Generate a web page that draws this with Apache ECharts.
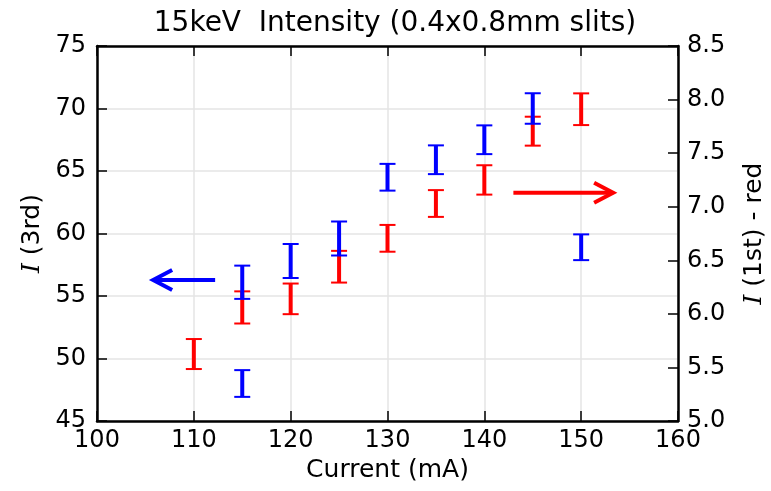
<!DOCTYPE html>
<html>
<head>
<meta charset="UTF-8">
<title>15keV Intensity</title>
<script src="https://cdn.jsdelivr.net/npm/echarts@6/dist/echarts.min.js"></script>
<style>
  html, body { margin: 0; padding: 0; background: #fff; }
  #main { width: 771px; height: 491px; }
</style>
</head>
<body>
<div id="main"></div>
<script>
// 3rd harmonic (blue, left axis): [current, intensity, error]
var blue3rd = [
  [115, 48.0, 1.07],
  [115, 56.1, 1.33],
  [120, 57.8, 1.36],
  [125, 59.6, 1.36],
  [130, 64.5, 1.07],
  [135, 65.9, 1.15],
  [140, 67.5, 1.15],
  [145, 70.0, 1.22],
  [150, 58.9, 1.03]
];
// 1st harmonic (red, right axis)
var red1st = [
  [110, 5.625, 0.14],
  [115, 6.06, 0.15],
  [120, 6.14, 0.143],
  [125, 6.44, 0.148],
  [130, 6.705, 0.125],
  [135, 7.03, 0.125],
  [140, 7.25, 0.137],
  [145, 7.705, 0.135],
  [150, 7.91, 0.148]
];
// arrows: [xFrom, yFrom, xTo, yTo]
var blueArrow = [[112.2, 56.28, 105.8, 56.28]];
var redArrow = [[143.0, 7.13, 153.3, 7.13]];

var xTicks = [100, 110, 120, 130, 140, 150, 160];
var leftTicks = [45, 50, 55, 60, 65, 70, 75];
var rightTicks = [5.0, 5.5, 6.0, 6.5, 7.0, 7.5, 8.0, 8.5];

var FONT = 'DejaVu Sans';

function errBar(color) {
  return function (params, api) {
    var x = api.value(0), y = api.value(1), e = api.value(2);
    var top = api.coord([x, y + e]);
    var bot = api.coord([x, y - e]);
    var hw = 8;
    var style = { stroke: color, lineWidth: 4 };
    var capStyle = { stroke: color, lineWidth: 2 };
    return {
      type: 'group',
      children: [
        { type: 'line', shape: { x1: top[0], y1: top[1], x2: bot[0], y2: bot[1] }, style: style },
        { type: 'line', shape: { x1: top[0] - hw, y1: top[1], x2: top[0] + hw, y2: top[1] }, style: capStyle },
        { type: 'line', shape: { x1: bot[0] - hw, y1: bot[1], x2: bot[0] + hw, y2: bot[1] }, style: capStyle }
      ]
    };
  };
}

function arrow(color) {
  return function (params, api) {
    var a = api.coord([api.value(0), api.value(1)]);
    var b = api.coord([api.value(2), api.value(3)]);
    var dir = b[0] > a[0] ? 1 : -1;
    var hl = 19, hh = 10;
    var st = { stroke: color, lineWidth: 4, fill: null, lineJoin: 'miter' };
    return {
      type: 'group',
      children: [
        { type: 'line', shape: { x1: a[0], y1: a[1], x2: b[0] - dir * 2, y2: b[1] }, style: st },
        { type: 'polyline', shape: { points: [[b[0] - dir * hl, b[1] - hh], [b[0], b[1]], [b[0] - dir * hl, b[1] + hh]] }, style: st }
      ]
    };
  };
}

var chart = echarts.init(document.getElementById('main'), null, { renderer: 'canvas' });

var axisLine = { show: true, lineStyle: { color: '#000', width: 2.5 } };
var tick = { show: true, inside: true, length: 10, lineStyle: { color: '#000', width: 1.5 } };
var lbl = { color: '#000', fontFamily: FONT, fontSize: 24 };
var nameStyle = {
  color: '#000', fontFamily: FONT, fontSize: 25,
  rich: { i: { fontFamily: 'DejaVu Serif', fontStyle: 'italic', fontSize: 25, color: '#000' } }
};

var option = {
  animation: false,
  textStyle: { fontFamily: FONT },
  title: {
    text: '15keV  Intensity (0.4x0.8mm slits)',
    left: 390, top: 5, textAlign: 'center',
    textStyle: { color: '#000', fontFamily: FONT, fontSize: 28, fontWeight: 'normal' }
  },
  grid: { left: 97, right: 93, top: 46, bottom: 70, containLabel: false, outerBoundsMode: 'none' },
  xAxis: [{
    type: 'value', min: xTicks[0], max: xTicks[xTicks.length - 1], interval: 10,
    position: 'bottom',
    name: 'Current (mA)', nameLocation: 'middle', nameGap: 36,
    nameTextStyle: { color: '#000', fontFamily: FONT, fontSize: 25 },
    axisLine: axisLine, axisTick: tick,
    axisLabel: Object.assign({ margin: 8 }, lbl),
    splitLine: { show: true, lineStyle: { color: '#e5e5e5', width: 1.5 } }
  }, {
    type: 'value', min: xTicks[0], max: xTicks[xTicks.length - 1], interval: 10,
    position: 'top',
    axisLine: axisLine, axisTick: tick, axisLabel: { show: false }, splitLine: { show: false }
  }],
  yAxis: [{
    type: 'value', min: leftTicks[0], max: leftTicks[leftTicks.length - 1], interval: 5,
    position: 'left',
    name: '{i|I} (3rd)', nameLocation: 'middle', nameGap: 52, nameRotate: 90,
    nameTextStyle: nameStyle,
    axisLine: axisLine, axisTick: tick,
    axisLabel: Object.assign({ margin: 11 }, lbl),
    splitLine: { show: true, lineStyle: { color: '#e5e5e5', width: 1.5 } }
  }, {
    type: 'value', min: rightTicks[0], max: rightTicks[rightTicks.length - 1], interval: 0.5,
    position: 'right',
    name: '{i|I} (1st) - red', nameLocation: 'middle', nameGap: 64, nameRotate: 90,
    nameTextStyle: nameStyle,
    axisLine: axisLine, axisTick: tick,
    axisLabel: Object.assign({ margin: 9, formatter: function (v) { return v.toFixed(1); } }, lbl),
    splitLine: { show: false }
  }],
  series: [
    { type: 'custom', name: '3rd', xAxisIndex: 0, yAxisIndex: 0, renderItem: errBar('#0000ff'), encode: { x: 0, y: 1 }, data: blue3rd, z: 3 },
    { type: 'custom', name: '1st', xAxisIndex: 0, yAxisIndex: 1, renderItem: errBar('#ff0000'), encode: { x: 0, y: 1 }, data: red1st, z: 2 },
    { type: 'custom', xAxisIndex: 0, yAxisIndex: 0, renderItem: arrow('#0000ff'), encode: { x: [0, 2], y: [1, 3] }, data: blueArrow, z: 4 },
    { type: 'custom', xAxisIndex: 0, yAxisIndex: 1, renderItem: arrow('#ff0000'), encode: { x: [0, 2], y: [1, 3] }, data: redArrow, z: 4 }
  ]
};

chart.setOption(option);
</script>
</body>
</html>
